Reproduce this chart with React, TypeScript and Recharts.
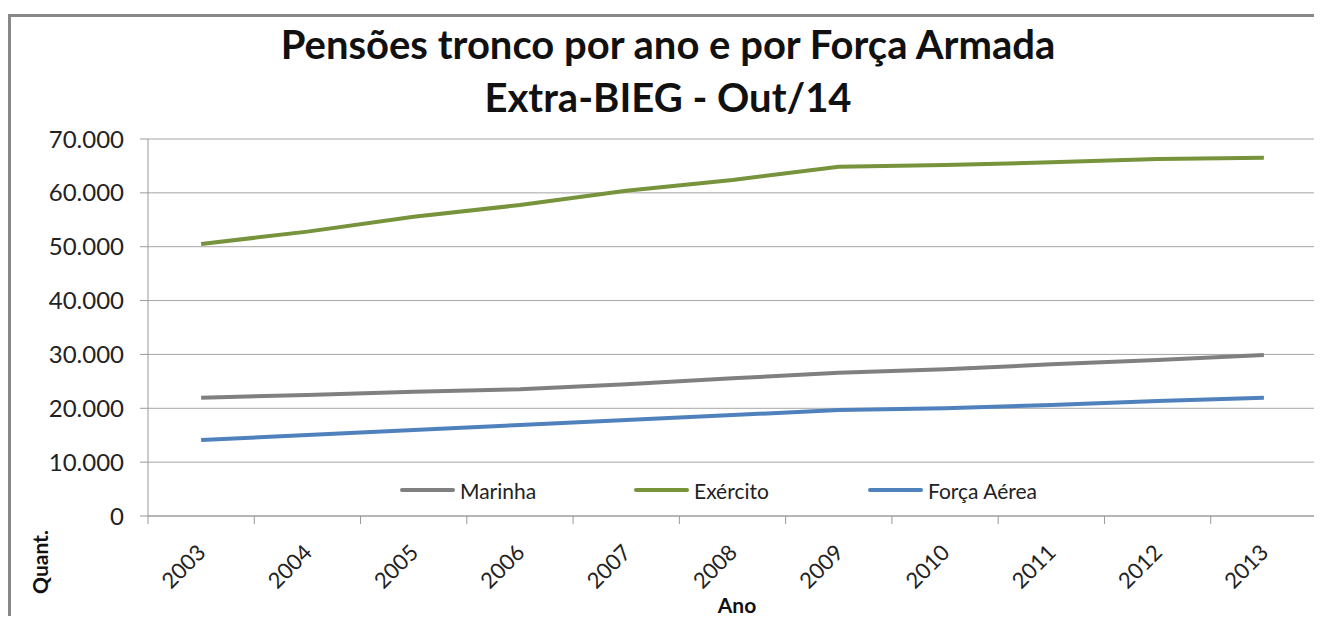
import { LineChart, Line, XAxis, YAxis, CartesianGrid } from 'recharts';

const years = ['2003', '2004', '2005', '2006', '2007', '2008', '2009', '2010', '2011', '2012', '2013'];
const marinha = [21960, 22470, 23080, 23520, 24450, 25560, 26610, 27230, 28160, 28960, 29890];
const exercito = [50500, 52800, 55570, 57740, 60400, 62380, 64860, 65170, 65670, 66280, 66500];
const forcaAerea = [14110, 15040, 15970, 16900, 17820, 18750, 19680, 20000, 20610, 21350, 21960];
const yTicks = [0, 10000, 20000, 30000, 40000, 50000, 60000, 70000];

const series = [
  { key: 'marinha', name: 'Marinha', color: '#808080' },
  { key: 'exercito', name: 'Exército', color: '#77933C' },
  { key: 'forcaAerea', name: 'Força Aérea', color: '#4F81BD' },
];

const data = years.map((year, i) => ({
  idx: i,
  year,
  marinha: marinha[i],
  exercito: exercito[i],
  forcaAerea: forcaAerea[i],
}));

// category centres get labels, the half steps get Excel-style tick marks
const xTicks: number[] = [];
for (let i = 0; i <= years.length; i++) {
  xTicks.push(i - 0.5);
  if (i < years.length) xTicks.push(i);
}

const FONT = 'Lato, "Open Sans", sans-serif';
const fmt = (v: number) => String(v).replace(/\B(?=(\d{3})+(?!\d))/g, '.');

function XTick({ x, y, payload }: { x?: number; y?: number; payload?: { value: number } }) {
  const v = payload?.value ?? 0;
  if (!Number.isInteger(v)) {
    return <line x1={x} y1={y} x2={x} y2={(y ?? 0) + 8} stroke="#999" strokeWidth={1} />;
  }
  const tx = (x ?? 0) + 6;
  const ty = (y ?? 0) + 38;
  return (
    <text x={tx} y={ty} textAnchor="end" transform={`rotate(-45 ${tx} ${ty})`}
      fill="#222" fontSize={22} fontFamily={FONT}>
      {years[v]}
    </text>
  );
}

function ChartLegend() {
  return (
    <div style={{
      position: 'absolute', left: 392, top: 470, height: 24, display: 'flex',
      fontFamily: FONT, fontSize: 21, color: '#222',
    }}>
      {series.map(s => (
        <div key={s.key} style={{ width: 234, display: 'flex', alignItems: 'center' }}>
          <span style={{ display: 'inline-block', width: 55, height: 4, borderRadius: 2, background: s.color, marginRight: 5 }} />
          <span>{s.name}</span>
        </div>
      ))}
    </div>
  );
}

export default function App() {
  return (
    <div style={{ position: 'relative', width: 1314, height: 608, background: '#fff' }}>
      <div style={{
        position: 'absolute', left: 0, top: 6, width: 1311, height: 607,
        borderLeft: '3px solid #888', borderTop: '3px solid #888',
      }} />
      <div style={{
        position: 'absolute', left: 660, top: 10, transform: 'translateX(-50%)',
        textAlign: 'center', whiteSpace: 'nowrap',
        fontFamily: FONT, fontWeight: 700, fontSize: 40, lineHeight: '53px', color: '#111',
      }}>
        Pensões tronco por ano e por Força Armada<br />Extra-BIEG - Out/14
      </div>
      <LineChart width={1314} height={608} data={data}
        margin={{ top: 131, right: 5, left: 0, bottom: 0 }}>
        <CartesianGrid vertical={false} stroke="#a6a6a6" />
        <XAxis dataKey="idx" type="number" domain={[-0.5, years.length - 0.5]} ticks={xTicks}
          interval={0} tick={<XTick />} tickLine={false} tickSize={0} tickMargin={0}
          axisLine={{ stroke: '#999' }} height={100} />
        <YAxis domain={[0, 70000]} ticks={yTicks} tickFormatter={fmt} width={140}
          tickSize={8} tickMargin={16} axisLine={{ stroke: '#999' }} tickLine={{ stroke: '#999' }}
          tick={{ fill: '#222', fontSize: 24, fontFamily: FONT }} />
        {series.map(s => (
          <Line key={s.key} dataKey={s.key} name={s.name} stroke={s.color} strokeWidth={4}
            dot={false} activeDot={false} isAnimationActive={false} />
        ))}
      </LineChart>
      <ChartLegend />
      <div style={{
        position: 'absolute', left: 31, top: 554, transform: 'translate(-50%, -50%) rotate(-90deg)',
        fontFamily: FONT, fontWeight: 700, fontSize: 21, color: '#111', whiteSpace: 'nowrap',
      }}>
        Quant.
      </div>
      <div style={{
        position: 'absolute', left: 729, top: 596, transform: 'translate(-50%, -50%)',
        fontFamily: FONT, fontWeight: 700, fontSize: 21, color: '#111',
      }}>
        Ano
      </div>
    </div>
  );
}
